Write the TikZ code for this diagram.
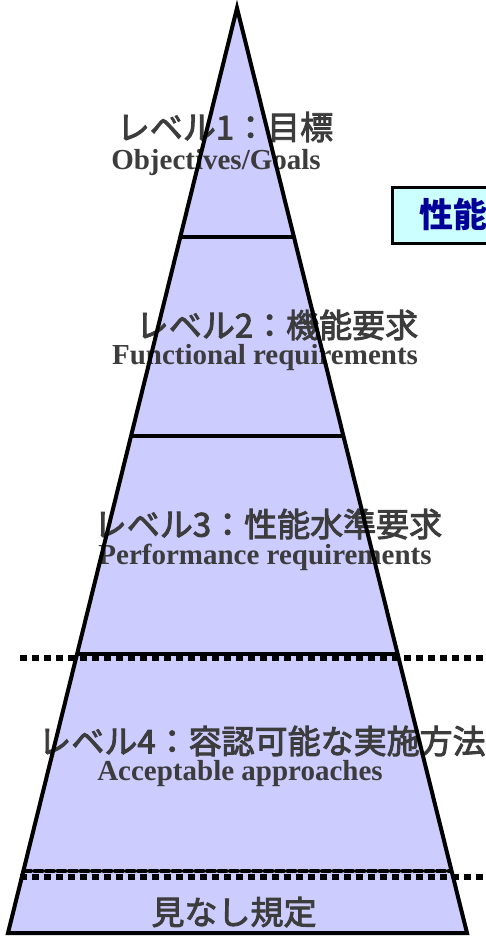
\documentclass[tikz,border=0pt]{standalone}
\usepackage{fontspec}
\setmainfont{Liberation Serif}
\newfontfamily\jp{Noto Sans CJK JP}
\definecolor{tri}{HTML}{CCCCFF}
\definecolor{txt}{HTML}{3C3C3C}
\definecolor{boxfill}{HTML}{CCFFFF}
\definecolor{navy}{HTML}{000099}
\newcommand\mythick[1]{\special{pdf:literal direct 2 Tr 0.9 w}#1\special{pdf:literal direct 0 Tr 1 w}}
\tikzset{
  jplabel/.style={font=\jp\fontsize{33}{33}\selectfont, text=txt, inner sep=0pt},
  enlabel/.style={font=\bfseries\fontsize{29}{29}\selectfont, text=txt, inner sep=0pt},
  solidsep/.style={line width=3.5pt},
  dotsep/.style={line width=6pt, dash pattern=on 7pt off 5pt},
}
\begin{document}
\begin{tikzpicture}[x=1pt,y=-1pt]
\useasboundingbox (0,0) rectangle (486,937);
\clip (0,0) rectangle (486,937);
\coordinate (apex) at (237,8);
\coordinate (bl) at (8,933);
\coordinate (br) at (467,933);
% side box
\node[draw=black, line width=3pt, fill=boxfill, minimum width=130pt, minimum height=56pt, anchor=north west, inner sep=0pt] (box) at (391,186) {};
\node[font=\jp\bfseries\fontsize{34}{34}\selectfont, text=navy, anchor=west, inner sep=0pt] (boxtxt) at (419,214) {性能};
% triangle fill
\fill[tri] (apex) -- (bl) -- (br) -- cycle;
% texts
\node[jplabel] (j1) at (225,127) {\mythick{レベル1：目標}};
\node[enlabel] (e1) at (216,163) {Objectives/Goals};
\node[jplabel] (j2) at (277,325) {\mythick{レベル2：機能要求}};
\node[enlabel] (e2) at (265,358) {Functional requirements};
\node[jplabel] (j3) at (268,524) {\mythick{レベル3：性能水準要求}};
\node[enlabel] (e3) at (265,557) {Performance requirements};
\node[jplabel] (j4) at (262,741) {\mythick{レベル4：容認可能な実施方法}};
\node[enlabel] (e4) at (240,774) {Acceptable approaches};
\node[jplabel] (j5) at (234,912) {\mythick{見なし規定}};
% separators inside triangle
\begin{scope}
\clip (apex) -- (bl) -- (br) -- cycle;
\draw[solidsep] (0,237) -- (486,237);
\draw[solidsep] (0,436) -- (486,436);
\draw[solidsep] (0,654) -- (486,654);
\draw[line width=4pt, dash pattern=on 8pt off 3.5pt, line cap=round] (0,871) -- (486,871);
\end{scope}
\draw[dotsep] (20,658) -- (486,658);
\draw[dotsep] (20,877) -- (486,877);
% outline
\draw[line width=4pt, line join=miter] (apex) -- (bl) -- (br) -- cycle;
\end{tikzpicture}
\end{document}
